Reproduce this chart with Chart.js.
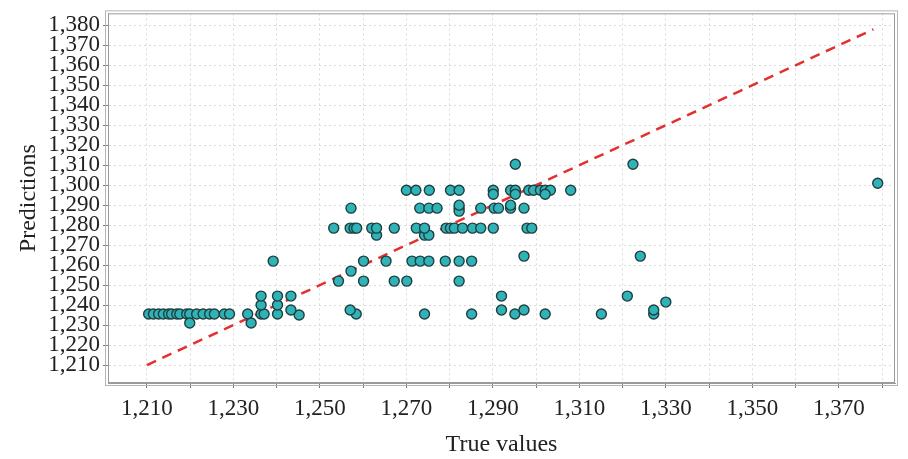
<!DOCTYPE html>
<html>
<head>
<meta charset="utf-8">
<script src="https://cdn.jsdelivr.net/npm/chart.js@4/dist/chart.umd.min.js"></script>
<style>
  html, body { margin: 0; padding: 0; background: #fff; }
  #wrap { width: 908px; height: 459px; }
</style>
</head>
<body>
<div id="wrap"><canvas id="scatterChart" width="908" height="459"></canvas></div>
<script>
// true values (x) and predicted values (y), paired by index
const trueValues = [
    1210.4, 1211.5, 1212.7, 1213.8, 1215.0, 1215.7, 1216.9, 1217.6, 1219.2, 1219.9, 1221.5, 1223.0, 1224.5, 1225.6,
    1227.9, 1229.1, 1233.3, 1236.4, 1237.1, 1240.2, 1245.2, 1258.4, 1274.2, 1285.1, 1295.1, 1302.1, 1315.1, 1327.2,
    1219.9, 1234.1,
    1243.3, 1257.0, 1292.0, 1297.2, 1327.2,
    1236.4, 1240.2,
    1330.0,
    1236.4, 1240.2, 1243.3, 1292.0, 1321.1,
    1254.3, 1260.1, 1267.2, 1270.1, 1282.2,
    1257.2,
    1239.2, 1260.1, 1265.3, 1271.3, 1273.2, 1275.2, 1279.0, 1282.2, 1285.1,
    1297.2, 1324.1,
    1263.1, 1274.2, 1275.2,
    1253.2, 1257.0, 1257.9, 1258.5, 1262.0, 1263.1, 1267.2, 1272.3, 1274.2, 1279.2, 1280.2, 1281.1, 1283.0, 1285.3,
    1287.2, 1290.1, 1297.9, 1299.0,
    1257.2, 1273.1, 1275.2, 1277.1, 1282.2, 1287.2, 1290.3, 1291.3, 1294.1, 1297.2,
    1282.2, 1282.2, 1294.1,
    1270.0, 1272.2, 1275.3, 1280.2, 1282.2, 1290.1, 1294.1, 1295.2, 1298.3, 1299.4, 1301.0, 1302.1, 1303.3, 1308.0,
    1290.1, 1295.2, 1302.1,
    1379.0,
    1295.2, 1322.4
];
const predictions = [
    1235.5, 1235.5, 1235.5, 1235.5, 1235.5, 1235.5, 1235.5, 1235.5, 1235.5, 1235.5, 1235.5, 1235.5, 1235.5, 1235.5,
    1235.5, 1235.5, 1235.5, 1235.5, 1235.5, 1235.5, 1235.0, 1235.5, 1235.5, 1235.5, 1235.5, 1235.5, 1235.5, 1235.5,
    1231.0, 1231.0,
    1237.5, 1237.5, 1237.5, 1237.5, 1237.5,
    1240.0, 1240.0,
    1241.5,
    1244.5, 1244.5, 1244.5, 1244.5, 1244.5,
    1252.0, 1252.0, 1252.0, 1252.0, 1252.0,
    1257.0,
    1262.0, 1262.0, 1262.0, 1262.0, 1262.0, 1262.0, 1262.0, 1262.0, 1262.0,
    1264.5, 1264.5,
    1275.0, 1275.0, 1275.0,
    1278.5, 1278.5, 1278.5, 1278.5, 1278.5, 1278.5, 1278.5, 1278.5, 1278.5, 1278.5, 1278.5, 1278.5, 1278.5, 1278.5,
    1278.5, 1278.5, 1278.5, 1278.5,
    1288.5, 1288.5, 1288.5, 1288.5, 1288.5, 1288.5, 1288.5, 1288.5, 1288.5, 1288.5,
    1287.0, 1290.0, 1290.0,
    1297.5, 1297.5, 1297.5, 1297.5, 1297.5, 1297.5, 1297.5, 1297.5, 1297.5, 1297.5, 1297.5, 1297.5, 1297.5, 1297.5,
    1295.5, 1295.5, 1295.5,
    1301.0,
    1310.5, 1310.5
];
// ideal line y = x
const idealLine = [1210, 1378];

const xTickValues = [1210, 1220, 1230, 1240, 1250, 1260, 1270, 1280, 1290, 1300, 1310, 1320, 1330, 1340, 1350, 1360, 1370, 1380];
const xLabelValues = [1210, 1230, 1250, 1270, 1290, 1310, 1330, 1350, 1370];
const yTickValues = [1210, 1220, 1230, 1240, 1250, 1260, 1270, 1280, 1290, 1300, 1310, 1320, 1330, 1340, 1350, 1360, 1370, 1380];

const fmt = v => v.toLocaleString("en-US");
const serif = "'Liberation Serif', 'DejaVu Serif', serif";

const framePlugin = {
    id: "frame",
    afterDraw(chart) {
        const { ctx, chartArea: a } = chart;
        ctx.save();
        ctx.strokeStyle = "#9a9a9a";
        ctx.lineWidth = 1;
        ctx.strokeRect(a.left + 0.5, a.top + 0.5, a.right - a.left - 1, a.bottom - a.top - 1);
        ctx.strokeStyle = "#b5b5b5";
        ctx.strokeRect(a.left - 2.5, a.top - 2.5, a.right - a.left + 5, a.bottom - a.top + 5);
        ctx.restore();
    }
};

document.addEventListener("DOMContentLoaded", function () {
    const ctx = document.getElementById("scatterChart").getContext("2d");

    new Chart(ctx, {
        data: {
            datasets: [
                {
                    type: "line",
                    label: "y = x",
                    data: idealLine.map(v => ({ x: v, y: v })),
                    borderColor: "#e2312f",
                    borderWidth: 2.5,
                    borderDash: [10, 7],
                    pointRadius: 0,
                    fill: false,
                    order: 2
                },
                {
                    type: "scatter",
                    label: "Predictions",
                    data: trueValues.map((v, i) => ({ x: v, y: predictions[i] })),
                    backgroundColor: "#2fb3b6",
                    borderColor: "#1f3f40",
                    borderWidth: 1.4,
                    pointRadius: 5,
                    order: 1
                }
            ]
        },
        options: {
            responsive: false,
            animation: false,
            layout: { padding: { left: 0, right: 13, top: 12, bottom: 0 } },
            plugins: {
                legend: { display: false },
                tooltip: { enabled: false }
            },
            scales: {
                x: {
                    type: "linear",
                    min: 1201,
                    max: 1383,
                    afterBuildTicks: s => { s.ticks = xTickValues.map(v => ({ value: v })); },
                    afterFit: s => { s.height = 76; },
                    ticks: {
                        autoSkip: false,
                        maxRotation: 0,
                        padding: 7,
                        color: "#222",
                        font: { family: serif, size: 23 },
                        callback: v => xLabelValues.includes(v) ? fmt(v) : ""
                    },
                    grid: {
                        color: "#dadada",
                        tickColor: "#777",
                        tickLength: 5,
                        lineWidth: 1
                    },
                    border: { display: true, color: "#9a9a9a", width: 1, dash: [2, 3] },
                    title: {
                        display: true,
                        text: "True values",
                        color: "#222",
                        font: { family: serif, size: 24 },
                        padding: { top: 6, bottom: 0 }
                    }
                },
                y: {
                    type: "linear",
                    min: 1201,
                    max: 1386,
                    afterBuildTicks: s => { s.ticks = yTickValues.map(v => ({ value: v })); },
                    afterFit: s => { s.width = 108; },
                    ticks: {
                        autoSkip: false,
                        padding: 3,
                        color: "#222",
                        font: { family: serif, size: 23, lineHeight: 0.9 },
                        callback: v => fmt(v)
                    },
                    grid: {
                        color: "#dadada",
                        tickColor: "#777",
                        tickLength: 5,
                        lineWidth: 1
                    },
                    border: { display: true, color: "#9a9a9a", width: 1, dash: [2, 3] },
                    title: {
                        display: true,
                        text: "Predictions",
                        color: "#222",
                        font: { family: serif, size: 24 },
                        padding: { top: 14, bottom: 0 }
                    }
                }
            }
        },
        plugins: [framePlugin]
    });
});
</script>
</body>
</html>
